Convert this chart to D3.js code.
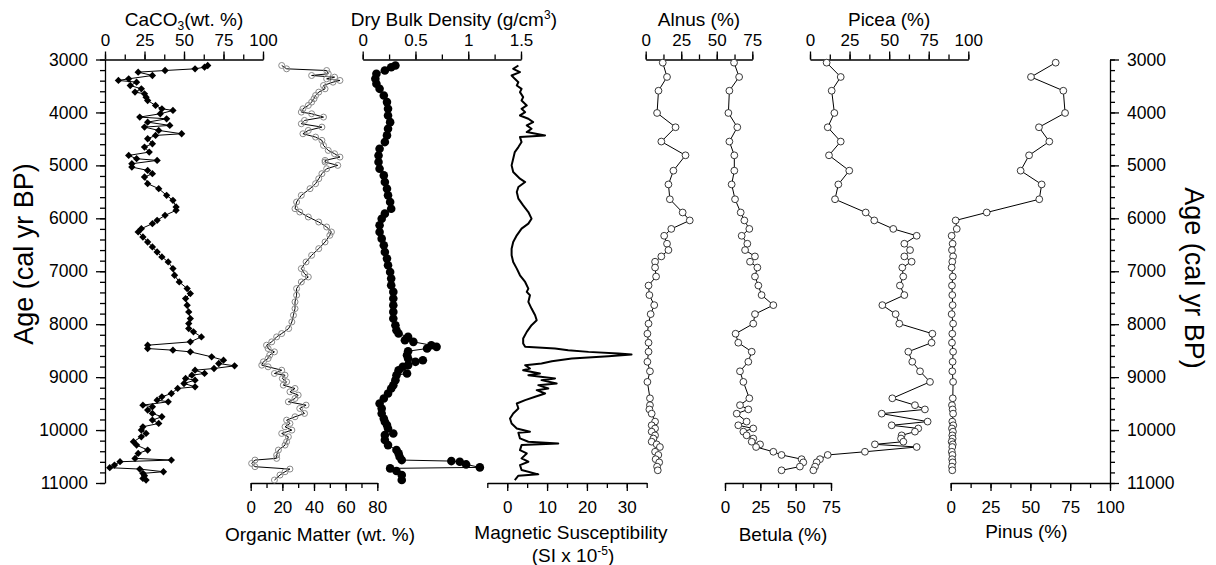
<!DOCTYPE html>
<html>
<head>
<meta charset="utf-8">
<title>Core stratigraphy</title>
<script src="https://d3js.org/d3.v7.min.js"></script>
<style>
  body { margin: 0; background: #fff; }
  text { font-family: "Liberation Sans", Arial, sans-serif; fill: #000; }
</style>
</head>
<body>
<svg width="1216" height="565"></svg>
<script>
// ---- data (ages in cal yr BP) ----
var caco3Age = [3113,3145,3176,3208,3239,3302,3365,3396,3428,3491,3554,3616,3648,3711,3774,3868,3931,3962,4025,4088,4120,4183,4245,4277,4340,4403,4434,4497,4591,4654,4749,4812,4874,4906,4969,5032,5095,5157,5220,5346,5440,5566,5661,5786,5849,5944,6038,6101,6195,6258,6353,6447,6541,6636,6730,6824,6950,7076,7202,7327,7422,7516,7642,7768,7894,7988,8082,8145,8240,8334,8397,8460,8491,8523,8617,8680,8743,8787,8837,8869,8931,8963,9026,9057,9120,9183,9214,9309,9372,9435,9466,9529,9560,9623,9686,9749,9812,9875,9938,10001,10064,10127,10221,10284,10378,10441,10535,10567,10598,10661,10711,10737,10787,10818,10862,10913,10944];
var caco3 = [65,63,57,38,21,30,15,8.5,20,16,23,19,25,26,27,32,36,43,35,22,39,27,41,25,34,48.5,32,27,30,25,28,15,20,33,17,17,27,30,25,27,34,39,43,45,45,38,33,30,23,21,24,27,30,33,36,40,43,44,47,52,54,51,52,53,54,53,53,56,61,54,27,27,43,54,67.5,75,72,82,69,57,63,55,51,57,50,57,46,42,36,33,40,24,30,27,30,36,30,34,24,23,26,23,18,20,27,21,19,42,9.5,6,3,22,37,24,25,24,26];

var omAge = [3113,3176,3208,3270,3302,3333,3365,3396,3428,3491,3554,3616,3679,3742,3805,3868,3931,3994,4025,4088,4151,4214,4277,4340,4403,4466,4528,4623,4717,4780,4843,4906,4937,5000,5063,5157,5252,5346,5440,5566,5692,5818,5881,5975,6070,6164,6258,6321,6447,6573,6699,6824,6950,7045,7108,7202,7327,7453,7579,7705,7831,7957,8082,8177,8240,8334,8397,8460,8523,8585,8648,8711,8774,8805,8869,8931,8963,9026,9089,9152,9214,9277,9340,9403,9466,9529,9592,9686,9749,9812,9875,9938,10001,10064,10127,10221,10284,10378,10473,10535,10567,10630,10692,10737,10787,10850,10944];
var om = [19.6,22.7,48,49,38.5,53,48,56.4,52,46,47,43,41,40,38.5,36.4,33,32,38.5,46,34,32,45,36.4,33,41,45,46,49,53,56.4,47,47,55,48,45,43,41,37.5,32,29,28,31,36.4,43,48,51,50,47,43,38.5,35,32,34,36.4,32,29,29,28,28,27,26,24,19.6,16.4,13.3,10,11,15,12,11,8,7,11,19.6,15,21.7,20,22.7,20.6,28,24.8,30,28,23.8,35,31,34,28,22.7,24.8,21.7,26,19.6,23.8,22.7,21.7,17.5,16.4,16.4,2.7,0.6,2.7,24.8,21.7,18.5,15];

var dbdAge = [3113,3145,3208,3270,3365,3459,3554,3679,3805,3931,4057,4183,4308,4434,4560,4686,4812,4937,5063,5189,5315,5440,5566,5692,5818,5912,6007,6132,6258,6384,6510,6636,6761,6887,7013,7139,7265,7390,7516,7642,7768,7894,8019,8114,8177,8240,8302,8334,8397,8428,8460,8510,8585,8648,8680,8711,8774,8805,8869,8931,8963,9057,9152,9214,9309,9403,9498,9592,9686,9781,9844,9906,9969,10064,10095,10189,10284,10378,10441,10504,10567,10586,10598,10649,10705,10724,10774,10850,10944];
var dbd = [0.31,0.27,0.21,0.13,0.12,0.13,0.16,0.20,0.23,0.24,0.24,0.26,0.24,0.23,0.21,0.16,0.15,0.15,0.16,0.20,0.21,0.23,0.24,0.26,0.27,0.21,0.18,0.16,0.16,0.18,0.20,0.21,0.23,0.24,0.26,0.27,0.27,0.29,0.29,0.29,0.29,0.29,0.31,0.32,0.34,0.43,0.40,0.48,0.65,0.70,0.61,0.43,0.42,0.43,0.57,0.50,0.43,0.38,0.34,0.42,0.32,0.31,0.29,0.27,0.24,0.20,0.16,0.18,0.18,0.20,0.21,0.23,0.24,0.29,0.21,0.21,0.24,0.32,0.34,0.35,0.37,0.84,0.92,0.98,1.11,0.26,0.32,0.37,0.37];

var msAge = [3113,3176,3239,3302,3365,3428,3491,3554,3616,3711,3774,3868,3931,3994,4057,4120,4183,4245,4308,4371,4434,4466,4560,4654,4749,4874,5000,5126,5252,5315,5409,5503,5629,5755,5881,6007,6101,6195,6321,6447,6573,6699,6824,6950,7076,7202,7327,7390,7453,7579,7705,7831,7925,8019,8145,8271,8365,8428,8460,8491,8523,8554,8573,8604,8648,8699,8743,8774,8837,8869,8931,8963,9026,9057,9120,9152,9214,9246,9309,9372,9435,9498,9592,9686,9781,9875,9969,10032,10051,10158,10221,10252,10284,10378,10441,10535,10598,10661,10755,10837,10862,10944];
var ms = [2.8,1.5,3.2,1.1,1.9,2.8,2.4,3.6,3.2,4.0,3.6,4.9,3.6,4.5,3.2,5.3,6.5,4.9,6.1,4.9,9.5,3.2,3.6,2.8,1.9,1.5,1.1,1.5,3.2,4.5,2.8,2.4,2.8,4.0,5.3,6.1,5.3,3.6,2.4,1.5,1.1,1.1,1.5,2.4,3.2,4.5,5.3,4.9,5.7,5.3,6.1,7.0,7.4,6.1,4.9,4.0,4.0,4.5,12,15.3,20.4,27.9,31.2,25.4,16.2,11.2,8.6,4.5,5.7,4.0,8.2,5.3,12,8.6,12.4,7.8,10.3,7.4,9.5,7.0,4.5,2.4,2.8,1.5,0.7,1.1,2.4,5.7,2.8,3.2,5.3,12.8,3.6,3.2,4.9,3.6,5.3,3.2,3.6,7.8,2.8,1.9];

var pollenAge = [3060,3330,3590,4010,4280,4550,4810,5100,5360,5640,5890,6040,6200,6330,6480,6600,6720,6820,6930,7100,7270,7450,7640,7810,7990,8180,8350,8520,8710,8890,9090,9400,9530,9610,9690,9840,9910,9970,10030,10100,10160,10220,10270,10320,10410,10470,10550,10610,10690,10760];
var alnus = [12,15,9,8,21,11,28,19.5,16,17,26,31,18,13,15,16,11,6.6,6.6,7.3,2,2.6,6,3.5,2,1.2,2,2,1.2,3,1.2,3,3,2.6,4.2,6.6,4.2,6.6,4.2,6.6,5.4,4.2,7.7,10,6.6,8.9,7,9.5,8,8.5];
var betula = [6.4,10,3.1,2.4,8.7,3.1,6.6,6.6,4.7,7.1,11.1,13.7,17.2,11.8,15.8,14.2,21.2,17.7,22.9,21.2,23.6,25.9,34.2,21.2,20,7.5,9.4,18.9,16.5,10.6,13,17.2,10.6,16.5,8.3,15.3,9.4,20,13,15.3,20,18.9,24.8,22,34.2,40,54.2,55.4,53,40];
var picea = [10.5,19.4,13.7,15.4,11.2,19.4,12,24.8,17.9,15.8,35.2,40.6,52.6,67.4,59.6,63.2,59.6,64.2,58.3,58.9,56.8,59.6,45.7,54.1,56.4,77.3,76.8,62.1,64.6,69.5,75.8,52,66.3,72.6,45.3,74.3,51.6,68.4,66.3,57.9,57.5,59,41,67.4,34.7,11.2,6.3,4.2,3.2,2.1];
var pinus = [65.9,50.4,70.7,71.8,55.4,61.9,49.2,43.9,57.1,55.6,22.6,3.1,3.8,0.6,1.2,0.8,1.5,1,0.6,1.3,0.8,1,1.2,0.6,1.5,1,0.8,1.5,1.2,1,1.5,1.3,0.8,1.2,1.5,1,1.6,0.8,1.4,1,1.2,0.6,1.3,1,0.7,1.1,0.9,1.2,0.8,1.0];

var ageTicks = d3.range(3000, 11001, 1000);
var ageMinor = d3.range(3000, 11001, 200);

// ---- layout ----
var svg = d3.select("svg");
var top0 = 59.5, bot0 = 483;
var y = d3.scaleLinear().domain([3000, 11000]).range([top0, bot0]);
var FS = "17px", TFS = "19px";

function zip(a, b) { return a.map(function(d, i) { return { age: d, v: b[i] }; }); }

function styleAxis(g, fs) {
  g.selectAll("path, line").attr("stroke", "#000").attr("stroke-width", 1.3);
  g.selectAll("text").style("font-size", fs || FS).attr("font-family", null);
}

// age axes
function ageAxis(x, right) {
  var major = (right ? d3.axisRight(y) : d3.axisLeft(y)).tickValues(ageTicks)
      .tickSize(9).tickSizeOuter(0).tickPadding(8).tickFormat(d3.format("d"));
  var minor = (right ? d3.axisRight(y) : d3.axisLeft(y)).tickValues(ageMinor)
      .tickSize(5).tickSizeOuter(0).tickFormat("");
  svg.append("g").attr("transform", "translate(" + x + ",0)").call(minor).call(styleAxis);
  svg.append("g").attr("transform", "translate(" + x + ",0)").call(major)
    .call(styleAxis, "17.5px").select(".domain").remove();
}
ageAxis(105, false);
ageAxis(1110, true);

svg.append("text").attr("transform", "translate(33,254) rotate(-90)")
  .attr("text-anchor", "middle").style("font-size", "27px").text("Age (cal yr BP)");
svg.append("text").attr("transform", "translate(1185,278) rotate(90)")
  .attr("text-anchor", "middle").style("font-size", "27px").text("Age (cal yr BP)");

// ---- panels ----
function panel(o) {
  var x = d3.scaleLinear().domain(o.domain).range(o.range);
  var pos = o.top ? top0 : bot0;
  var mk = o.top ? d3.axisTop : d3.axisBottom;
  var minor = mk(x).tickValues(o.minor).tickSize(5).tickSizeOuter(0).tickFormat("");
  var major = mk(x).tickValues(o.major).tickSize(8).tickSizeOuter(0)
      .tickPadding(o.top ? 6 : 9.5).tickFormat(o.fmt || d3.format("d"));
  svg.append("g").attr("transform", "translate(0," + pos + ")").call(minor).call(styleAxis);
  svg.append("g").attr("transform", "translate(0," + pos + ")").call(major).call(styleAxis)
    .select(".domain").remove();

  var cx = (o.range[0] + o.range[1]) / 2 + (o.titleDx || 0);
  var t = svg.append("text").attr("x", cx).attr("y", o.top ? 25.5 : o.titleY || 541)
    .attr("text-anchor", "middle").style("font-size", TFS);
  o.title(t);

  var data = zip(o.age, o.vals);
  var line = d3.line().x(function(d) { return x(d.v); }).y(function(d) { return y(d.age); });
  svg.append("path").datum(data).attr("d", line).attr("fill", "none")
    .attr("stroke", "#000").attr("stroke-width", o.lw || 1).attr("stroke-linejoin", "round");

  var g = svg.append("g");
  if (o.marker === "diamond") {
    g.selectAll("path").data(data).enter().append("path")
      .attr("d", d3.symbol().type(d3.symbolDiamond2).size(34))
      .attr("transform", function(d) { return "translate(" + x(d.v) + "," + y(d.age) + ")"; })
      .attr("fill", "#000");
  } else if (o.marker) {
    g.selectAll("circle").data(data).enter().append("circle")
      .attr("cx", function(d) { return x(d.v); })
      .attr("cy", function(d) { return y(d.age); })
      .attr("r", o.marker.r).attr("fill", o.marker.fill)
      .attr("stroke", o.marker.stroke).attr("stroke-width", o.marker.sw || 1);
  }
}

function plainTitle(s) { return function(t) { t.text(s); }; }

panel({ age: caco3Age, vals: caco3, domain: [0, 100], range: [105, 263], top: true,
  major: [0, 25, 50, 75, 100], minor: d3.range(0, 101, 12.5), marker: "diamond",
  title: function(t) {
    t.append("tspan").text("CaCO");
    t.append("tspan").attr("dy", 4).style("font-size", "12px").text("3");
    t.append("tspan").attr("dy", -4).text("(wt. %)");
  } });

panel({ age: omAge, vals: om, domain: [0, 80], range: [250.7, 377.3], top: false,
  major: [0, 20, 40, 60, 80], minor: d3.range(0, 81, 10), titleDx: 6,
  marker: { r: 3, fill: "none", stroke: "#8a8a8a", sw: 1 },
  title: plainTitle("Organic Matter (wt. %)") });

panel({ age: dbdAge, vals: dbd, domain: [0, 1.5], range: [362.7, 521], top: true,
  major: [0, 0.5, 1, 1.5], minor: d3.range(0, 1.51, 0.25), fmt: d3.format("~g"),
  marker: { r: 4.3, fill: "#000", stroke: "none" }, titleDx: 12,
  title: function(t) {
    t.append("tspan").text("Dry Bulk Density (g/cm");
    t.append("tspan").attr("dy", -7).style("font-size", "12px").text("3");
    t.append("tspan").attr("dy", 7).text(")");
  } });

panel({ age: msAge, vals: ms, domain: [-5, 35], range: [487.3, 646.7], top: false,
  major: [0, 10, 20, 30], minor: d3.range(-5, 36, 5), lw: 2, titleDx: 4, titleY: 539,
  title: plainTitle("Magnetic Susceptibility") });
var ms2 = svg.append("text").attr("x", 573).attr("y", 562).attr("text-anchor", "middle")
  .style("font-size", TFS);
ms2.append("tspan").text("(SI x 10");
ms2.append("tspan").attr("dy", -7).style("font-size", "12px").text("-5");
ms2.append("tspan").attr("dy", 7).text(")");

var pollenMk = { r: 3.4, fill: "#fff", stroke: "#222", sw: 0.9 };
panel({ age: pollenAge, vals: alnus, domain: [0, 75], range: [645.7, 752.3], top: true,
  major: [0, 25, 50, 75], minor: d3.range(0, 76, 12.5), marker: pollenMk,
  title: plainTitle("Alnus (%)") });
panel({ age: pollenAge, vals: betula, domain: [0, 75], range: [725, 831], top: false,
  major: [0, 25, 50, 75], minor: d3.range(0, 76, 12.5), marker: pollenMk, titleDx: 5,
  title: plainTitle("Betula (%)") });
panel({ age: pollenAge, vals: picea, domain: [0, 100], range: [810, 968.3], top: true,
  major: [0, 25, 50, 75, 100], minor: d3.range(0, 101, 12.5), marker: pollenMk,
  title: plainTitle("Picea (%)") });
panel({ age: pollenAge, vals: pinus, domain: [0, 100], range: [950.7, 1110], top: false,
  major: [0, 25, 50, 75, 100], minor: d3.range(0, 101, 12.5), marker: pollenMk,
  titleDx: -4, titleY: 538, title: plainTitle("Pinus (%)") });
</script>
</body>
</html>
